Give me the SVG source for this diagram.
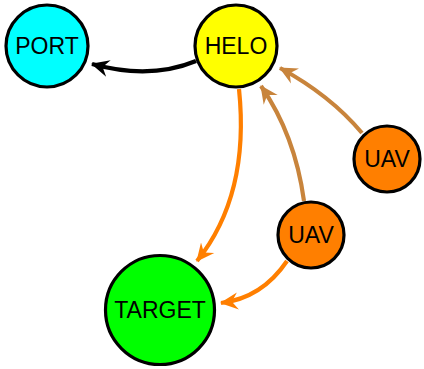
<svg xmlns="http://www.w3.org/2000/svg" width="424" height="369" viewBox="0 0 424 369">
<style>
.node{stroke:#000;stroke-width:3.2}
.lbl{font-family:"Liberation Sans",Arial,sans-serif;font-size:23px;text-anchor:middle;fill:#000}
.e{fill:none;stroke-width:4.2}
</style>
<defs>
<marker id="ak" markerUnits="userSpaceOnUse" markerWidth="20" markerHeight="20" refX="17" refY="10" orient="auto"><path d="M0,1.5 L18,10 L0,18.5 L6,10 z" fill="#000"/></marker>
<marker id="ao" markerUnits="userSpaceOnUse" markerWidth="20" markerHeight="20" refX="17" refY="10" orient="auto"><path d="M0,1.5 L18,10 L0,18.5 L6,10 z" fill="#ff7f00"/></marker>
<marker id="ab" markerUnits="userSpaceOnUse" markerWidth="20" markerHeight="20" refX="17" refY="10" orient="auto"><path d="M0,1.5 L18,10 L0,18.5 L6,10 z" fill="#c8843c"/></marker>
</defs>
<g id="edges">
<path class="e" stroke="#000" d="M196,61 Q150,80 92,64" marker-end="url(#ak)"/>
<path class="e" stroke="#ff7f00" d="M239,89 Q250,195 197,261" marker-end="url(#ao)"/>
<path class="e" stroke="#ff7f00" d="M287,261 Q262,298 221,303" marker-end="url(#ao)"/>
<path class="e" stroke="#c8843c" d="M362,133 Q330,95 280,68" marker-end="url(#ab)"/>
<path class="e" stroke="#c8843c" d="M304,201 Q295,135 261,86" marker-end="url(#ab)"/>
</g>
<g id="port"><circle class="node" cx="47" cy="46" r="41" fill="#00ffff"/><text class="lbl" x="47" y="54">PORT</text></g>
<g id="helo"><circle class="node" cx="236" cy="46" r="41" fill="#ffff00"/><text class="lbl" x="236" y="54">HELO</text></g>
<g id="uav1"><circle class="node" cx="387" cy="159" r="33" fill="#ff7f00"/><text class="lbl" x="387" y="167">UAV</text></g>
<g id="uav2"><circle class="node" cx="311" cy="235" r="33" fill="#ff7f00"/><text class="lbl" x="311" y="243">UAV</text></g>
<g id="target"><circle class="node" cx="160" cy="310" r="54.5" fill="#00ff00"/><text class="lbl" x="160" y="318">TARGET</text></g>
</svg>
